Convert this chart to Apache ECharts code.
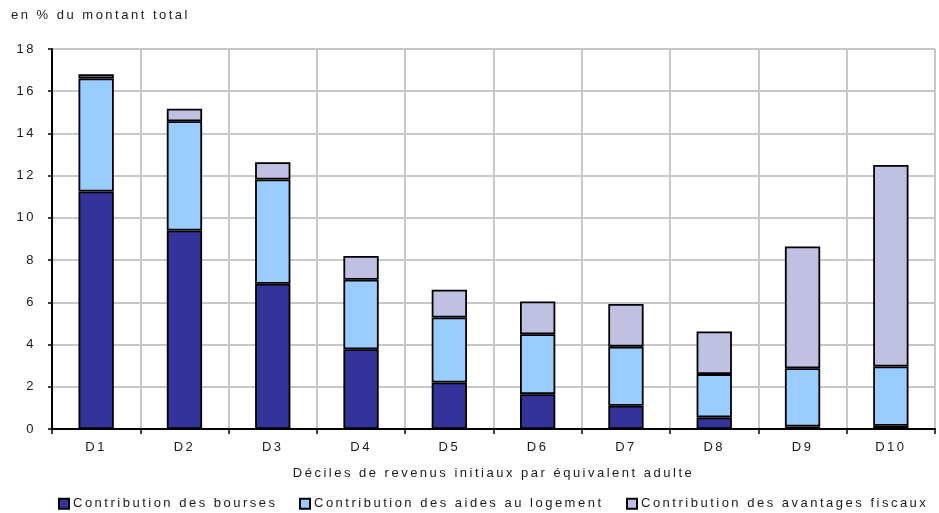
<!DOCTYPE html>
<html><head><meta charset="utf-8">
<script src="https://cdn.jsdelivr.net/npm/echarts@6/dist/echarts.min.js"></script>
<style>html,body{margin:0;padding:0;background:#fff}#c{width:939px;height:513px}</style>
</head><body><div id="c"></div>
<script>
// widen letter spacing like the reference typography
(function(){
  var d = Object.getOwnPropertyDescriptor(CanvasRenderingContext2D.prototype,'font');
  Object.defineProperty(CanvasRenderingContext2D.prototype,'font',{
    get:function(){return d.get.call(this);},
    set:function(v){d.set.call(this,v); try{this.letterSpacing='2.5px';}catch(e){}},
    configurable:true
  });
})();

var categories = ['D1','D2','D3','D4','D5','D6','D7','D8','D9','D10'];
var bourses = [11.25, 9.4, 6.88, 3.78, 2.2, 1.65, 1.1, 0.55, 0.12, 0.15];
var aidesLogement = [5.35, 5.18, 4.94, 3.29, 3.08, 2.84, 2.8, 2.05, 2.76, 2.81];
var avantagesFiscaux = [0.2, 0.59, 0.82, 1.13, 1.32, 1.55, 2.02, 2.02, 5.77, 9.55];
var yTicks = [0, 2, 4, 6, 8, 10, 12, 14, 16, 18];
var seriesNames = ['Contribution des bourses','Contribution des aides au logement','Contribution des avantages fiscaux'];
var colors = ['#333399','#99CCFF','#C0C0E2'];

var chart = echarts.init(document.getElementById('c'), null, {renderer:'canvas'});
var font = 'Liberation Sans';
var fs = 13;
var txtColor = '#1a1a1a';
var dataSets = [bourses, aidesLogement, avantagesFiscaux];

var legendLefts = [53, 294, 621];
var legends = seriesNames.map(function(n,i){
  return {
    data:[n], left: legendLefts[i], top: 491, itemWidth: 10, itemHeight: 10,
    icon:'rect', itemGap: 0,
    textStyle:{fontFamily:font, fontSize:fs, color:txtColor, padding:[0,0,0,-1]},
    selectedMode:false
  };
});

chart.setOption({
  animation:false,
  title:{text:'en % du montant total', left:6, top:3,
    textStyle:{fontFamily:font, fontSize:fs, fontWeight:'normal', color:txtColor}},
  legend: legends,
  grid:{left:52, right:4, top:49, bottom:84, containLabel:false},
  xAxis:{
    type:'category', data:categories,
    name:'Déciles de revenus initiaux par équivalent adulte',
    nameLocation:'middle', nameGap:37,
    nameTextStyle:{fontFamily:font, fontSize:fs, color:txtColor},
    axisLine:{lineStyle:{color:'#000', width:2}},
    axisTick:{show:true, length:5, lineStyle:{color:'#000', width:1.5}},
    axisLabel:{fontFamily:font, fontSize:fs, color:txtColor, margin:11},
    splitLine:{show:true, lineStyle:{color:'#c8c8c8', width:2}}
  },
  yAxis:{
    type:'value', min:yTicks[0], max:yTicks[yTicks.length-1], interval:2,
    axisLine:{show:true, lineStyle:{color:'#000', width:2}},
    axisTick:{show:true, length:4, lineStyle:{color:'#000', width:1.5}},
    axisLabel:{fontFamily:font, fontSize:fs, color:txtColor, margin:16},
    splitLine:{show:true, lineStyle:{color:'#c8c8c8', width:2}}
  },
  series: seriesNames.map(function(n,i){
    return {
      name:n, type:'bar', stack:'total', data:dataSets[i], barWidth:'40%',
      itemStyle:{color:colors[i], borderColor:'#000', borderWidth:1.8}
    };
  })
});
</script></body></html>
